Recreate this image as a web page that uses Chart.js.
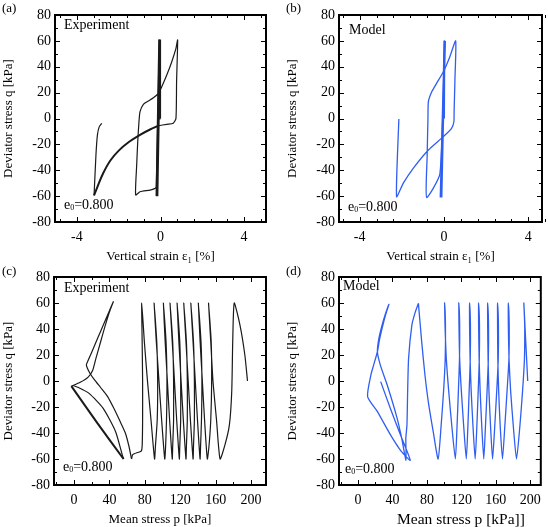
<!DOCTYPE html>
<html>
<head>
<meta charset="utf-8">
<title>Cyclic triaxial test - experiment vs model</title>
<script src="https://cdn.jsdelivr.net/npm/chart.js@4.4.1/dist/chart.umd.min.js"></script>
<style>
  body { margin: 0; background: #fff; }
  #wrap { position: relative; width: 548px; height: 527px; }
  .panel { position: absolute; }
</style>
</head>
<body>
<div id="wrap">
  <div class="panel" style="left:0;top:0"><canvas id="chartA" width="274" height="264"></canvas></div>
  <div class="panel" style="left:274px;top:0"><canvas id="chartB" width="274" height="264"></canvas></div>
  <div class="panel" style="left:0;top:264px"><canvas id="chartC" width="274" height="263"></canvas></div>
  <div class="panel" style="left:274px;top:264px"><canvas id="chartD" width="274" height="263"></canvas></div>
</div>
<script>
// ===== (a) Experiment: q vs vertical strain =====
const aBundleStrain = [0, -0.02, -0.15, -0.03, -0.16, -0.04, -0.17, -0.05, -0.18, -0.05, -0.18, -0.06, -0.19, -0.06];
const aBundleQ      = [0, 61, -60, 61, -60, 61, -60, 61, -60, 61, -60, 61, -60, 61];
const aLoopStrain = [-0.06, -0.2, -0.26, -0.5, -0.98, -1.19, -1.14, -1.09, -1.03, -0.98, -0.82, -0.58,
                     -0.34, -0.1, 0.06, 0.30, 0.54, 0.74, 0.82, 0.77, 0.74, 0.61, 0.30, -0.1];
const aLoopQ      = [61, -53, -54, -55.3, -56.6, -59.1, -36, -17.9, -2.4, 5.3, 11, 13.5,
                     16, 19.5, 24.6, 33.6, 43.9, 54.2, 60.7, 28.4, 0.1, -3.7, -4.5, -5.6];
const aSoftStrain = [-0.1, -0.5, -1.0, -1.5, -2.0, -2.4, -2.75, -3.0, -3.18];
const aSoftQ      = [-5.6, -8.5, -12.8, -18, -24.8, -32.5, -42.5, -52, -59.5];
const aEndStrain  = [-3.18, -3.09, -3.02, -2.93, -2.81];
const aEndQ       = [-59.5, -28.2, -12.8, -6.3, -3.7];

// ===== (b) Model: q vs vertical strain =====
const bBundleStrain = [0, 0.02, -0.12, 0.04, -0.14, 0.05, -0.15, 0.05, -0.16, 0.03];
const bBundleQ      = [0, 60, -61, 60, -61, 60, -61, 60, -61, 60];
const bLoopStrain = [0.03, -0.19, -0.82, -0.80, -0.76, -0.74, -0.58, -0.35, -0.03, 0.28, 0.555,
                     0.52, 0.48, 0.47, 0.36, -0.03, -0.74, -1.46, -1.93, -2.25, -2.14];
const bLoopQ      = [60, -42.4, -61, -30, 0, 13, 20.7, 27.2, 36.2, 47.8, 60,
                     30, 5, -2.5, -7.6, -14, -24.3, -38.5, -50, -60.4, -0.4];

// ===== (c) Experiment: q vs mean stress p =====
const cCyclesP = [196, 193, 187.5, 181,
  179.3, 178.2, 175.5, 170.6, 165,
  161, 157, 154.5, 152,   155, 155.5, 154.5, 152.5, 150.6,
  147.5, 145, 142.5, 140.5,   143.5, 144.5, 144, 143, 142.4,
  139.5, 137, 134.5, 132,   135, 136, 136, 135, 134.5,
  131.5, 129, 126.5, 124,   127, 128, 128, 127, 126.5,
  123.5, 121, 118.5, 116.5,   119.5, 120.5, 120.5, 119.5, 119,
  116, 113.5, 111, 108.5,   111.5, 112.5, 112.5, 111.5, 111,
  108, 105.5, 103, 101,   104, 105, 104.5, 103.5, 102.5,
  99, 96, 93, 90.5,   93.5, 94.5, 94, 92, 91,
  87, 83, 79.5, 76.5,
  77, 77.5, 77.5, 77, 76, 72, 68, 66, 65];
const cCyclesQ = [0, 20, 43, 60,
  30, -8, -34, -49, -60,
  -30, 0, 30, 60,   30, 0, -30, -50, -60,
  -30, 0, 30, 60,   30, 0, -30, -50, -60,
  -30, 0, 30, 60,   30, 0, -30, -50, -60,
  -30, 0, 30, 60,   30, 0, -30, -50, -60,
  -30, 0, 30, 60,   30, 0, -30, -50, -60,
  -30, 0, 30, 60,   30, 0, -30, -50, -60,
  -30, 0, 30, 60,   30, 0, -30, -50, -60,
  -30, 0, 30, 60,   30, 0, -30, -50, -60,
  -30, 0, 30, 60,
  30, 0, -30, -50, -54, -55, -56, -57, -60];
const cButterflyP = [65, 62, 58, 52, 45, 38, 30, 23, 18, 15, 14, 17.4, 22.4, 27.4, 33.1, 38.7, 44.4,
                     40, 35, 30, 25, 21, 16, 7, -3];
const cButterflyQ = [-60, -50, -40, -31, -21, -12, -5, 1, 6, 10, 12.5, 18, 26, 34, 43, 52, 61,
                     53, 42, 30, 18, 8, 3, -1, -4];
const cSlumpP = [-3, 26, 56];
const cSlumpQ = [-4, -32, -60];
const cEndP = [56, 54.6, 47, 33, 17, 5, -1];
const cEndQ = [-60, -57, -39, -21, -9.5, -5, -3.5];

// ===== (d) Model: q vs mean stress p =====
const dCyclesP = [197, 195.5, 194, 192.5,
  193.5, 193.2, 191, 188, 184,        180.2, 177.2, 175.3, 174.5, 174.5,
  175.5, 175.2, 173, 170.5, 167.7,    165, 163.3, 162.3, 162, 162,
  163, 162.8, 161, 158.8, 156.2,      153.8, 152, 151, 150.5, 150.5,
  151.5, 151.3, 149.8, 148, 146,      143.6, 141.8, 140.6, 140, 140,
  141, 140.8, 139.5, 138, 136,        133.4, 131.4, 130.1, 129.5, 129.5,
  130.5, 130.3, 129, 127.6, 125.7,    122.6, 120, 118, 117.2, 117,
  118, 117.8, 116.5, 115, 113,        108.8, 105.3, 102.5, 101, 100.5,
  101.5, 101.2, 99.3, 96.5, 93,       87.3, 81.6, 77.7, 73.9, 70.1];
const dCyclesQ = [0, 20, 40, 60,
  43, 17, -8, -34, -60,    -34, -8, 17, 43, 60,
  43, 17, -8, -34, -60,    -34, -8, 17, 43, 60,
  43, 17, -8, -34, -60,    -34, -8, 17, 43, 60,
  43, 17, -8, -34, -60,    -34, -8, 17, 43, 60,
  43, 17, -8, -34, -60,    -34, -8, 17, 43, 60,
  43, 17, -8, -34, -60,    -34, -8, 17, 43, 60,
  43, 17, -8, -34, -60,    -34, -8, 17, 43, 60,
  43, 17, -8, -34, -60,    -39, -16, 4.6, 30.3, 59.7];
const dButterflyP = [70.1, 66, 62.5, 58.7, 57.6, 56.8, 55.5, 55.7, 51, 45.4, 33.9, 26, 22.5, 24, 27.5, 31.5, 35.9,
                     32.5, 28.5, 25, 22.5, 18, 14.9, 11.1, 22.5, 37.7, 50, 60.6, 49, 38, 26.3];
const dButterflyQ = [59.7, 52, 43, 17.4, -8.2, -33.8, -44, -61, -45, -28.7, -3.1, 12, 22.5, 32, 42, 51, 59,
                     52, 42, 32, 22.5, 12, 4.6, -12, -23.6, -41.5, -54, -61, -41, -22, -0.5];

// tick marks and labels
const strainTicks  = [-4.8, -4, -3.2, -2.4, -1.6, -0.8, 0, 0.8, 1.6, 2.4, 3.2, 4, 4.8];
const strainLabels = [-4, 0, 4];
const pTicks  = [-20, 0, 20, 40, 60, 80, 100, 120, 140, 160, 180, 200];
const pLabels = [0, 40, 80, 120, 160, 200];
const qTicks  = [-70, -60, -50, -40, -30, -20, -10, 0, 10, 20, 30, 40, 50, 60, 70];
const qLabels = [-80, -60, -40, -20, 0, 20, 40, 60, 80];

const SERIF = '"Liberation Serif", "Times New Roman", serif';
const EXP_COLOR = '#1a1a1a';
const MODEL_COLOR = '#2f5ef2';

function toPoints(xs, ys) {
  return xs.map((v, i) => ({ x: v, y: ys[i] }));
}

function curve(xs, ys, color, width, tension) {
  return {
    data: toPoints(xs, ys),
    showLine: true,
    borderColor: color,
    borderWidth: width,
    pointRadius: 0,
    tension: tension,
    fill: false
  };
}

// frame with inward ticks on all four sides + panel texts
function decoPlugin(d) {
  return {
    id: 'deco',
    afterDraw(chart) {
      const { ctx, chartArea: a } = chart;
      const xs = chart.scales.x, ys = chart.scales.y;
      ctx.save();
      ctx.strokeStyle = '#000';
      ctx.lineWidth = 1;
      ctx.beginPath();
      d.xTicks.forEach(v => {
        const px = Math.round(xs.getPixelForValue(v)) + 0.5;
        const len = d.xMajor.includes(v) ? 5 : 3;
        ctx.moveTo(px, a.bottom); ctx.lineTo(px, a.bottom - len);
        ctx.moveTo(px, a.top);    ctx.lineTo(px, a.top + len);
      });
      d.yTicks.forEach(v => {
        const py = Math.round(ys.getPixelForValue(v)) + 0.5;
        const len = v % 20 === 0 ? 5 : 3;
        ctx.moveTo(a.left, py);  ctx.lineTo(a.left + len, py);
        ctx.moveTo(a.right, py); ctx.lineTo(a.right - len, py);
      });
      ctx.stroke();
      ctx.lineWidth = 2;
      ctx.strokeRect(a.left, a.top, a.right - a.left, a.bottom - a.top);

      ctx.fillStyle = '#000';
      ctx.textBaseline = 'middle';
      ctx.textAlign = 'left';
      ctx.font = '13px ' + SERIF;
      ctx.fillText(d.tag, d.tagX, d.tagY);
      ctx.font = '14px ' + SERIF;
      ctx.fillText(d.name, a.left + d.nameDx, a.top + d.nameDy);

      // e0=0.800 with a small subscript
      let x = a.left + d.eDx;
      const y = a.bottom - d.eDy;
      ctx.font = '14px ' + SERIF;
      ctx.fillText('e', x, y);
      x += ctx.measureText('e').width;
      ctx.font = '8px ' + SERIF;
      ctx.fillText('0', x, y + 3);
      x += ctx.measureText('0').width;
      ctx.font = '14px ' + SERIF;
      ctx.fillText('=0.800', x, y);

      // x-axis title placed by hand when the panel asks for it
      if (d.xTitle) {
        ctx.textAlign = 'center';
        ctx.font = d.xTitle.size + 'px ' + SERIF;
        ctx.fillText(d.xTitle.text, d.xTitle.x, d.xTitle.y);
      }
      ctx.restore();
    }
  };
}

function makePanel(p) {
  const canvas = document.getElementById(p.id);
  const W = canvas.width, H = canvas.height;
  const tickFont = { family: SERIF, size: 14 };
  return new Chart(canvas.getContext('2d'), {
    type: 'scatter',
    data: { datasets: p.datasets },
    options: {
      responsive: false,
      animation: false,
      events: [],
      layout: { padding: { left: 0, top: p.area.top, right: W - p.area.right, bottom: 0 } },
      plugins: { legend: { display: false }, tooltip: { enabled: false } },
      scales: {
        x: {
          type: 'linear',
          min: p.xMin,
          max: p.xMax,
          grid: { display: false, drawTicks: false },
          border: { display: false },
          afterBuildTicks: s => { s.ticks = p.xLabels.map(v => ({ value: v })); },
          afterFit: s => { s.height = H - p.area.bottom; },
          ticks: { font: tickFont, color: '#000', padding: 7, maxRotation: 0 },
          title: { display: !!p.xTitle, text: p.xTitle || '', color: '#000',
                   font: { family: SERIF, size: 13 }, padding: { top: 0, bottom: 0 } }
        },
        y: {
          type: 'linear',
          min: -80,
          max: 80,
          grid: { display: false, drawTicks: false },
          border: { display: false },
          afterBuildTicks: s => { s.ticks = qLabels.map(v => ({ value: v })); },
          afterFit: s => { s.width = p.area.left; },
          ticks: { font: tickFont, color: '#000', padding: 4 },
          title: { display: true, text: 'Deviator stress q [kPa]', color: '#000',
                   font: { family: SERIF, size: 13 }, padding: { top: p.yTitlePad, bottom: 0 } }
        }
      }
    },
    plugins: [decoPlugin(p.deco)]
  });
}

makePanel({
  id: 'chartA',
  area: { left: 55, right: 266, top: 15, bottom: 222 },
  xMin: -5.05, xMax: 5.05, xLabels: strainLabels,
  xTitle: 'Vertical strain \u03b5\u2081 [%]', yTitlePad: 1,
  datasets: [
    curve(aBundleStrain, aBundleQ, EXP_COLOR, 2, 0),
    curve(aLoopStrain, aLoopQ, EXP_COLOR, 1.2, 0.2),
    curve(aSoftStrain, aSoftQ, EXP_COLOR, 2, 0.3),
    curve(aEndStrain, aEndQ, EXP_COLOR, 1.2, 0.2)
  ],
  deco: { xTicks: strainTicks, xMajor: strainLabels, yTicks: qTicks, tag: '(a)', tagX: 2, tagY: 9,
          name: 'Experiment', nameDx: 9, nameDy: 10, eDx: 9, eDy: 17 }
});

makePanel({
  id: 'chartB',
  area: { left: 65, right: 268, top: 15, bottom: 222 },
  xMin: -4.98, xMax: 4.65, xLabels: strainLabels,
  xTitle: 'Vertical strain \u03b5\u2081 [%]', yTitlePad: 11,
  datasets: [
    curve(bBundleStrain, bBundleQ, MODEL_COLOR, 2, 0),
    curve(bLoopStrain, bLoopQ, MODEL_COLOR, 1.3, 0.2)
  ],
  deco: { xTicks: strainTicks, xMajor: strainLabels, yTicks: qTicks, tag: '(b)', tagX: 12, tagY: 9,
          name: 'Model', nameDx: 10, nameDy: 15, eDx: 9, eDy: 15 }
});

makePanel({
  id: 'chartC',
  area: { left: 54, right: 266, top: 13, bottom: 221 },
  xMin: -22.6, xMax: 216.9, xLabels: pLabels,
  xTitle: 'Mean stress p [kPa]', yTitlePad: 1,
  datasets: [
    curve(cCyclesP, cCyclesQ, EXP_COLOR, 1.2, 0.2),
    curve(cButterflyP, cButterflyQ, EXP_COLOR, 1.2, 0.2),
    curve(cSlumpP, cSlumpQ, EXP_COLOR, 2, 0.2),
    curve(cEndP, cEndQ, EXP_COLOR, 1.2, 0.2)
  ],
  deco: { xTicks: pTicks, xMajor: pLabels, yTicks: qTicks, tag: '(c)', tagX: 2, tagY: 8,
          name: 'Experiment', nameDx: 10, nameDy: 11, eDx: 9, eDy: 18 }
});

// (d) has a wider, off-centre axis title in the source figure, so it is drawn by the plugin
makePanel({
  id: 'chartD',
  area: { left: 65, right: 270, top: 13, bottom: 221 },
  xMin: -22.1, xMax: 212.2, xLabels: pLabels,
  xTitle: null, yTitlePad: 11,
  datasets: [
    curve(dCyclesP, dCyclesQ, MODEL_COLOR, 1.3, 0.2),
    curve(dButterflyP, dButterflyQ, MODEL_COLOR, 1.3, 0.2)
  ],
  deco: { xTicks: pTicks, xMajor: pLabels, yTicks: qTicks, tag: '(d)', tagX: 12, tagY: 8,
          name: 'Model', nameDx: 4, nameDy: 9, eDx: 6, eDy: 16,
          xTitle: { text: 'Mean stress p [kPa]]', size: 15.5, x: 187, y: 256 } }
});
</script>
</body>
</html>
